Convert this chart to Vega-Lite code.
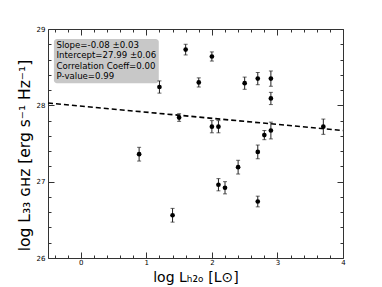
{
  "$schema": "https://vega.github.io/schema/vega-lite/v6.json",
  "autosize": "none",
  "width": 295,
  "height": 229,
  "padding": {"left": 48, "top": 29, "right": 39, "bottom": 29},
  "config": {"view": {"stroke": null}, "font": "DejaVu Sans"},
  "datasets": {
    "pts": [
      {"x": 0.89, "y": 27.36, "e": 0.09},
      {"x": 1.40, "y": 26.56, "e": 0.09},
      {"x": 1.20, "y": 28.24, "e": 0.08},
      {"x": 1.60, "y": 28.73, "e": 0.07},
      {"x": 1.50, "y": 27.84, "e": 0.05},
      {"x": 1.80, "y": 28.30, "e": 0.06},
      {"x": 2.00, "y": 28.64, "e": 0.06},
      {"x": 2.00, "y": 27.72, "e": 0.08},
      {"x": 2.10, "y": 27.72, "e": 0.08},
      {"x": 2.50, "y": 28.29, "e": 0.08},
      {"x": 2.70, "y": 28.35, "e": 0.08},
      {"x": 2.90, "y": 28.35, "e": 0.10},
      {"x": 2.90, "y": 28.09, "e": 0.08},
      {"x": 2.80, "y": 27.61, "e": 0.06},
      {"x": 2.90, "y": 27.67, "e": 0.11},
      {"x": 3.70, "y": 27.72, "e": 0.10},
      {"x": 2.10, "y": 26.96, "e": 0.08},
      {"x": 2.20, "y": 26.92, "e": 0.08},
      {"x": 2.40, "y": 27.19, "e": 0.09},
      {"x": 2.70, "y": 27.39, "e": 0.09},
      {"x": 2.70, "y": 26.74, "e": 0.07}
    ],
    "fit": [
      {"x": -0.5, "y": 28.03},
      {"x": 4.0, "y": 27.67}
    ],
    "box": [
      {"x1": -0.41, "x2": 1.19, "y1": 28.87, "y2": 28.29}
    ],
    "txt": [
      {"x": -0.37, "y": 28.79, "t": "Slope=-0.08 ±0.03"},
      {"x": -0.37, "y": 28.655, "t": "Intercept=27.99 ±0.06"},
      {"x": -0.37, "y": 28.52, "t": "Correlation Coeff=0.00"},
      {"x": -0.37, "y": 28.385, "t": "P-value=0.99"}
    ]
  },
  "resolve": {"axis": {"x": "independent", "y": "independent"}},
  "layer": [
    {
      "data": {"name": "box"},
      "mark": {"type": "rect", "fill": "#c8c8c8", "cornerRadius": 3},
      "encoding": {
        "x": {"field": "x1", "type": "quantitative", "scale": {"domain": [-0.5, 4], "nice": false, "zero": false},
          "axis": {
            "orient": "bottom",
            "values": [-0.4,-0.2,0,0.2,0.4,0.6,0.8,1,1.2,1.4,1.6,1.8,2,2.2,2.4,2.6,2.8,3,3.2,3.4,3.6,3.8,4],
            "labelExpr": "datum.value % 1 === 0 ? toString(datum.value) : ''",
            "tickSize": {"condition": {"test": "datum.value % 1 === 0", "value": -6}, "value": -3},
            "tickColor": "#333", "domainColor": "#333", "grid": false,
            "labelFontSize": 7, "labelColor": "#000", "labelPadding": 6, "labelFlush": false,
            "title": "log Lₕ₂ₒ [L⊙]", "titleFontSize": 14, "titleFontWeight": "normal", "titlePadding": 5, "titleColor": "#000"
          }},
        "x2": {"field": "x2"},
        "y": {"field": "y1", "type": "quantitative", "scale": {"domain": [26, 29], "nice": false, "zero": false},
          "axis": {
            "orient": "left",
            "values": [26,26.2,26.4,26.6,26.8,27,27.2,27.4,27.6,27.8,28,28.2,28.4,28.6,28.8,29],
            "labelExpr": "datum.value % 1 === 0 ? toString(datum.value) : ''",
            "tickSize": {"condition": {"test": "datum.value % 1 === 0", "value": -6}, "value": -3},
            "tickColor": "#333", "domainColor": "#333", "grid": false,
            "labelFontSize": 7, "labelColor": "#000", "labelPadding": 9, "labelFlush": false,
            "title": "log L₃₃ ɢʜᴢ [erg s⁻¹ Hz⁻¹]", "titleFontSize": 15.5, "titleFontWeight": "normal", "titlePadding": 4, "titleY": 126, "titleColor": "#000"
          }},
        "y2": {"field": "y2"}
      }
    },
    {
      "data": {"name": "fit"},
      "mark": {"type": "line", "color": "#000", "strokeWidth": 1.6, "strokeDash": [5, 3]},
      "encoding": {
        "x": {"field": "x", "type": "quantitative",
          "axis": {
            "orient": "top",
            "values": [-0.4,-0.2,0,0.2,0.4,0.6,0.8,1,1.2,1.4,1.6,1.8,2,2.2,2.4,2.6,2.8,3,3.2,3.4,3.6,3.8,4],
            "labels": false, "title": null,
            "tickSize": {"condition": {"test": "datum.value % 1 === 0", "value": -6}, "value": -3},
            "tickColor": "#333", "domainColor": "#333", "grid": false
          }},
        "y": {"field": "y", "type": "quantitative",
          "axis": {
            "orient": "right",
            "values": [26,26.2,26.4,26.6,26.8,27,27.2,27.4,27.6,27.8,28,28.2,28.4,28.6,28.8,29],
            "labels": false, "title": null,
            "tickSize": {"condition": {"test": "datum.value % 1 === 0", "value": -6}, "value": -3},
            "tickColor": "#333", "domainColor": "#333", "grid": false
          }}
      }
    },
    {
      "data": {"name": "txt"},
      "mark": {"type": "text", "align": "left", "baseline": "middle", "fontSize": 8.6, "color": "#000"},
      "encoding": {
        "x": {"field": "x", "type": "quantitative", "axis": null},
        "y": {"field": "y", "type": "quantitative", "axis": null},
        "text": {"field": "t"}
      }
    },
    {
      "data": {"name": "pts"},
      "transform": [{"calculate": "datum.y - datum.e", "as": "lo"}, {"calculate": "datum.y + datum.e", "as": "hi"}],
      "mark": {"type": "rule", "color": "#222", "strokeWidth": 1},
      "encoding": {
        "x": {"field": "x", "type": "quantitative", "axis": null},
        "y": {"field": "lo", "type": "quantitative", "axis": null},
        "y2": {"field": "hi"}
      }
    },
    {
      "data": {"name": "pts"},
      "transform": [{"calculate": "datum.y - datum.e", "as": "lo"}, {"calculate": "datum.y + datum.e", "as": "hi"}, {"fold": ["lo", "hi"], "as": ["k", "v"]}],
      "mark": {"type": "tick", "orient": "horizontal", "color": "#222", "size": 4, "thickness": 1},
      "encoding": {
        "x": {"field": "x", "type": "quantitative", "axis": null},
        "y": {"field": "v", "type": "quantitative", "axis": null}
      }
    },
    {
      "data": {"name": "pts"},
      "mark": {"type": "circle", "color": "#000", "opacity": 1, "size": 22},
      "encoding": {
        "x": {"field": "x", "type": "quantitative", "axis": null},
        "y": {"field": "y", "type": "quantitative", "axis": null}
      }
    }
  ]
}
